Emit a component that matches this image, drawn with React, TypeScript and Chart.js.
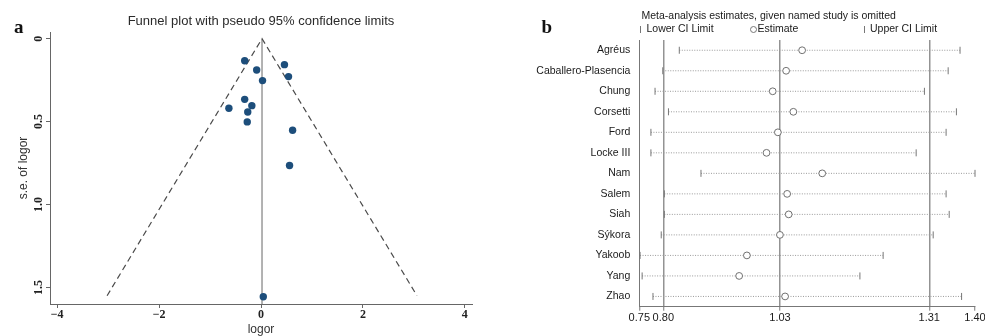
import React, { useEffect, useRef } from "react";
import { Chart, registerables } from "chart.js";

Chart.register(...registerables);

// ---------- Panel a: funnel plot ----------
const funnelLogor = [-0.32, 0.46, -0.085, 0.54, 0.03, -0.32, -0.18, -0.63, -0.26, -0.27, 0.62, 0.56, 0.045];
const funnelSe = [0.133, 0.157, 0.189, 0.229, 0.253, 0.366, 0.404, 0.42, 0.442, 0.502, 0.552, 0.765, 1.556];
const pooledLogor = 0.02;
const limitLogor = [-3.02, 0.02, 3.06];
const limitSe = [1.55, 0, 1.55];
const funnelXRange = [-4.14, 4.14];
const funnelYRange = [-0.04, 1.6];
const funnelXTicks = [-4, -2, 0, 2, 4];
const funnelXTickLabels = ["\u22124", "\u22122", "0", "2", "4"];
const funnelYTicks = [0, 0.5, 1, 1.5];
const funnelYTickLabels = ["0", "0.5", "1.0", "1.5"];

// ---------- Panel b: leave-one-out ----------
const studies = [
  "Agréus",
  "Caballero-Plasencia",
  "Chung",
  "Corsetti",
  "Ford",
  "Locke III",
  "Nam",
  "Salem",
  "Siah",
  "Sýkora",
  "Yakoob",
  "Yang",
  "Zhao",
];
const estimate = [1.068, 1.037, 1.011, 1.051, 1.021, 0.999, 1.107, 1.039, 1.042, 1.025, 0.961, 0.946, 1.035];
const lowerCI = [0.83, 0.798, 0.783, 0.809, 0.775, 0.775, 0.872, 0.801, 0.801, 0.795, 0.754, 0.758, 0.779];
const upperCI = [1.374, 1.351, 1.305, 1.367, 1.347, 1.289, 1.403, 1.347, 1.353, 1.322, 1.225, 1.18, 1.377];
const overall = [0.799, 1.0251, 1.3144];
const metaXRange = [0.7525, 1.403];
const metaXTicks = [metaXRange[0], overall[0], overall[1], overall[2], metaXRange[1]];
const metaXTickLabels = ["0.75", "0.80", "1.03", "1.31", "1.40"];

const SANS = '"Liberation Sans", Arial, Helvetica, sans-serif';
const SERIF = '"Liberation Serif", "Times New Roman", serif';

type TextItem = {
  text: string;
  x: number;
  y: number;
  font: string;
  color: string;
  align?: CanvasTextAlign;
  baseline?: CanvasTextBaseline;
};

function makeTextPlugin(id: string, items: TextItem[], extra?: (ctx: CanvasRenderingContext2D) => void) {
  return {
    id,
    afterDraw(chart: any) {
      const ctx: CanvasRenderingContext2D = chart.ctx;
      ctx.save();
      for (const it of items) {
        ctx.font = it.font;
        ctx.fillStyle = it.color;
        ctx.textAlign = it.align || "left";
        ctx.textBaseline = it.baseline || "middle";
        ctx.fillText(it.text, it.x, it.y);
      }
      if (extra) extra(ctx);
      ctx.restore();
    },
  };
}

function FunnelPanel() {
  const ref = useRef<HTMLCanvasElement | null>(null);
  useEffect(() => {
    if (!ref.current) return;
    const plugin = makeTextPlugin("funnelText", [
      { text: "a", x: 14, y: 32.5, font: `bold 19px ${SERIF}`, color: "#111", baseline: "alphabetic" },
      {
        text: "Funnel plot with pseudo 95% confidence limits",
        x: 261,
        y: 21,
        font: `13px ${SANS}`,
        color: "#2a2a2a",
        align: "center",
      },
    ]);
    const chart = new Chart(ref.current, {
      type: "scatter",
      data: {
        datasets: [
          {
            data: funnelLogor.map((x, i) => ({ x, y: funnelSe[i] })),
            pointRadius: 3.7,
            pointBackgroundColor: "#1d4e7b",
            pointBorderWidth: 0,
            clip: false as any,
          },
          {
            data: limitLogor.map((x, i) => ({ x, y: limitSe[i] })),
            showLine: true,
            borderColor: "#4a4a4a",
            borderWidth: 1.2,
            borderDash: [6, 4],
            pointRadius: 0,
          },
          {
            data: [
              { x: pooledLogor, y: 0 },
              { x: pooledLogor, y: funnelYRange[1] },
            ],
            showLine: true,
            borderColor: "#9a9a9a",
            borderWidth: 1.5,
            pointRadius: 0,
          },
        ],
      },
      options: {
        animation: false,
        responsive: false,
        events: [],
        layout: { padding: { left: 0, right: 18, top: 32, bottom: 0 } },
        plugins: { legend: { display: false }, tooltip: { enabled: false }, title: { display: false } },
        scales: {
          x: {
            type: "linear",
            min: funnelXRange[0],
            max: funnelXRange[1],
            afterBuildTicks: (s: any) => {
              s.ticks = funnelXTicks.map((v) => ({ value: v }));
            },
            afterFit: (s: any) => {
              s.height = 32;
            },
            ticks: {
              autoSkip: false,
              padding: 0,
              color: "#222",
              font: { family: SERIF, size: 12, weight: "bold" },
              callback: (_v: any, i: number) => funnelXTickLabels[i],
            },
            grid: { drawOnChartArea: false, drawTicks: true, tickLength: 4, tickColor: "#666", tickWidth: 1 },
            border: { display: true, color: "#666", width: 1 },
            title: {
              display: true,
              text: "logor",
              color: "#333",
              font: { family: SANS, size: 12, lineHeight: 1 },
              padding: { top: 0, bottom: 0 },
            },
          },
          y: {
            type: "linear",
            reverse: true,
            min: funnelYRange[0],
            max: funnelYRange[1],
            afterBuildTicks: (s: any) => {
              s.ticks = funnelYTicks.map((v) => ({ value: v }));
            },
            afterFit: (s: any) => {
              s.width = 50;
            },
            ticks: {
              autoSkip: false,
              minRotation: 90,
              maxRotation: 90,
              crossAlign: "center",
              padding: 0,
              color: "#222",
              font: { family: SERIF, size: 12, weight: "bold" },
              callback: (_v: any, i: number) => funnelYTickLabels[i],
            },
            grid: { drawOnChartArea: false, drawTicks: true, tickLength: 4, tickColor: "#666", tickWidth: 1 },
            border: { display: true, color: "#666", width: 1 },
            title: {
              display: true,
              text: "s.e. of logor",
              color: "#333",
              font: { family: SANS, size: 12 },
              padding: { top: 16.8, bottom: 0 },
            },
          },
        },
      } as any,
      plugins: [plugin],
    });
    return () => chart.destroy();
  }, []);
  return <canvas ref={ref} width={490} height={336} style={{ display: "block" }} />;
}

function MetaPanel() {
  const ref = useRef<HTMLCanvasElement | null>(null);
  useEffect(() => {
    if (!ref.current) return;
    const plugin = makeTextPlugin(
      "metaText",
      [
        { text: "b", x: 51.5, y: 33.3, font: `bold 19px ${SERIF}`, color: "#111", baseline: "alphabetic" },
        {
          text: "Meta-analysis estimates, given named study is omitted",
          x: 151.5,
          y: 15.7,
          font: `10.5px ${SANS}`,
          color: "#1a1a1a",
        },
        { text: "Lower CI Limit", x: 156.5, y: 29.5, font: `10.5px ${SANS}`, color: "#1a1a1a" },
        { text: "Estimate", x: 267.5, y: 29.5, font: `10.5px ${SANS}`, color: "#1a1a1a" },
        { text: "Upper CI Limit", x: 380, y: 29.5, font: `10.5px ${SANS}`, color: "#1a1a1a" },
      ],
      (ctx) => {
        ctx.strokeStyle = "#777";
        ctx.lineWidth = 1;
        ctx.beginPath();
        ctx.moveTo(150.5, 26);
        ctx.lineTo(150.5, 33);
        ctx.moveTo(374.5, 26);
        ctx.lineTo(374.5, 33);
        ctx.stroke();
        ctx.beginPath();
        ctx.arc(263.5, 29.5, 3, 0, Math.PI * 2);
        ctx.fillStyle = "#fff";
        ctx.fill();
        ctx.stroke();
      }
    );
    const chart = new Chart(ref.current, {
      type: "scatter",
      data: {
        datasets: [
          {
            label: "Estimate",
            data: estimate.map((x, i) => ({ x, y: studies[i] })),
            pointStyle: "circle",
            pointRadius: 3.4,
            pointBackgroundColor: "#fff",
            pointBorderColor: "#707070",
            pointBorderWidth: 1,
            clip: false as any,
          },
          {
            label: "Lower CI Limit",
            data: lowerCI.map((x, i) => ({ x, y: studies[i] })),
            pointStyle: "line",
            pointRotation: 90,
            pointRadius: 3.5,
            pointBorderColor: "#777",
            pointBorderWidth: 1,
            clip: false as any,
          },
          {
            label: "Upper CI Limit",
            data: upperCI.map((x, i) => ({ x, y: studies[i] })),
            pointStyle: "line",
            pointRotation: 90,
            pointRadius: 3.5,
            pointBorderColor: "#777",
            pointBorderWidth: 1,
            clip: false as any,
          },
          ...studies.map((s, i) => ({
            data: [
              { x: lowerCI[i], y: s },
              { x: upperCI[i], y: s },
            ],
            showLine: true,
            borderColor: "#999",
            borderWidth: 1,
            borderDash: [1, 1.5],
            pointRadius: 0,
          })),
        ],
      },
      options: {
        animation: false,
        responsive: false,
        events: [],
        layout: { padding: { left: 0, right: 25, top: 40, bottom: 0 } },
        plugins: { legend: { display: false }, tooltip: { enabled: false }, title: { display: false } },
        scales: {
          x: {
            type: "linear",
            min: metaXRange[0],
            max: metaXRange[1],
            afterBuildTicks: (s: any) => {
              s.ticks = metaXTicks.map((v) => ({ value: v }));
            },
            afterFit: (s: any) => {
              s.height = 29.3;
            },
            ticks: {
              autoSkip: false,
              padding: 1,
              color: "#1a1a1a",
              font: { family: SANS, size: 11 },
              callback: (_v: any, i: number) => metaXTickLabels[i],
            },
            grid: {
              drawOnChartArea: true,
              drawTicks: true,
              tickLength: 4,
              color: (c: any) => (c.index === 0 || c.index === metaXTicks.length - 1 ? "rgba(0,0,0,0)" : "#939393"),
              lineWidth: 1.5,
              tickColor: "#777",
              tickWidth: 1,
            },
            border: { display: true, color: "#777", width: 1 },
          },
          y: {
            type: "category",
            labels: studies,
            offset: true,
            afterFit: (s: any) => {
              s.width = 149.3;
            },
            ticks: {
              autoSkip: false,
              padding: 9,
              color: "#1a1a1a",
              font: { family: SANS, size: 10.5 },
            },
            grid: { display: false, drawTicks: false },
            border: { display: true, color: "#777", width: 1 },
          },
        },
      } as any,
      plugins: [plugin],
    });
    return () => chart.destroy();
  }, []);
  return <canvas ref={ref} width={510} height={336} style={{ display: "block" }} />;
}

export default function App() {
  return (
    <div
      style={{
        position: "absolute",
        left: 0,
        top: 0,
        width: 985,
        height: 336,
        overflow: "hidden",
        background: "#fff",
      }}
    >
      <div style={{ position: "absolute", left: 0, top: 0 }}>
        <FunnelPanel />
      </div>
      <div style={{ position: "absolute", left: 490, top: 0 }}>
        <MetaPanel />
      </div>
    </div>
  );
}
